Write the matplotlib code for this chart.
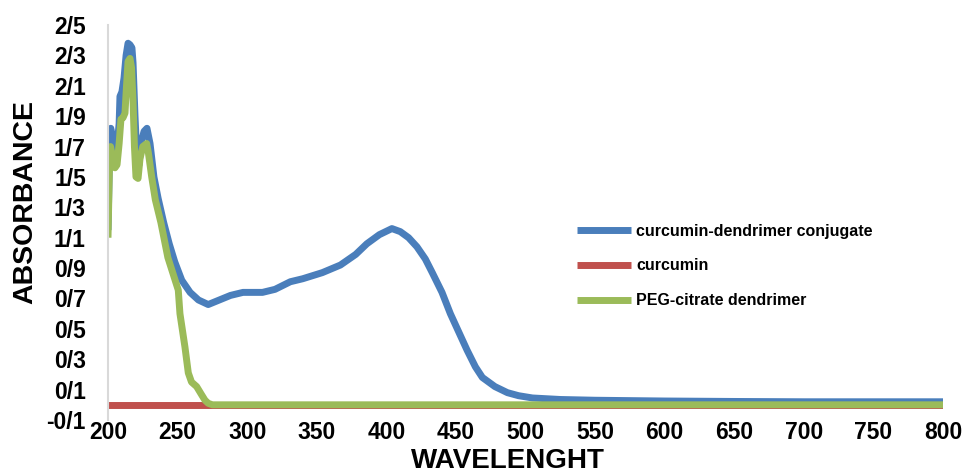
import numpy as np
import matplotlib
matplotlib.use('Agg')
import matplotlib.pyplot as plt
from matplotlib.ticker import FixedLocator, FixedFormatter

plt.rcParams['font.family'] = ['Liberation Sans', 'DejaVu Sans']
plt.rcParams['font.weight'] = 'bold'

# curcumin-dendrimer conjugate
wl_conj = [200, 201.4, 202, 203.6, 205, 206.5, 208, 208.6, 210, 211.5, 213, 214.4, 215.8,
           217.2, 218, 219.4, 220.8, 222.3, 223.7, 225.9, 228, 230.2, 233, 236, 240, 244,
           248, 253, 259, 265, 272, 280, 288, 297, 311, 320, 331, 340, 354, 367, 378, 386,
           395, 404, 410, 416, 422, 428, 433, 440, 446, 452, 458, 464, 469, 478, 487, 495,
           505, 515, 525, 550, 600, 650, 700, 750, 800]
abs_conj = [1.15, 1.80, 1.82, 1.75, 1.69, 1.70, 1.85, 2.03, 2.06, 2.15, 2.30, 2.38, 2.37,
            2.35, 2.25, 1.90, 1.62, 1.58, 1.72, 1.80, 1.82, 1.72, 1.50, 1.36, 1.20, 1.06,
            0.94, 0.82, 0.74, 0.69, 0.66, 0.69, 0.72, 0.74, 0.74, 0.76, 0.81, 0.83, 0.87,
            0.92, 0.99, 1.06, 1.12, 1.16, 1.14, 1.10, 1.04, 0.96, 0.87, 0.74, 0.60, 0.48,
            0.36, 0.25, 0.18, 0.12, 0.08, 0.06, 0.045, 0.04, 0.035, 0.03, 0.025, 0.022,
            0.02, 0.02, 0.02]

# curcumin
wl_cur = [200, 800]
abs_cur = [0.0, 0.0]

# PEG-citrate dendrimer
wl_peg = [200, 201, 201.8, 203.6, 205, 206.5, 208, 209.3, 210.8, 212.2, 213.3, 214.4,
          215.8, 216.9, 218, 219, 220.1, 221.6, 223, 225, 227.8, 229, 231.4, 234, 238,
          243, 250.5, 251.7, 255.3, 257.7, 260, 263.7, 267, 269.7, 272, 275, 800]
abs_peg = [1.10, 1.55, 1.70, 1.62, 1.56, 1.58, 1.72, 1.88, 1.89, 1.92, 2.10, 2.26, 2.28,
           2.22, 2.00, 1.70, 1.50, 1.49, 1.62, 1.70, 1.72, 1.66, 1.50, 1.35, 1.20, 0.97,
           0.755, 0.60, 0.38, 0.21, 0.15, 0.12, 0.07, 0.03, 0.01, 0.0, 0.0]

yticks = [-0.1, 0.1, 0.3, 0.5, 0.7, 0.9, 1.1, 1.3, 1.5, 1.7, 1.9, 2.1, 2.3, 2.5]
ytick_labels = ['-0/1', '0/1', '0/3', '0/5', '0/7', '0/9', '1/1', '1/3', '1/5', '1/7',
                '1/9', '2/1', '2/3', '2/5']
xticks = list(range(200, 801, 50))

W, H = 963, 474
fig = plt.figure(figsize=(W / 100, H / 100), dpi=100)
ax = fig.add_axes([108 / W, 1 - 420 / H, (943 - 108) / W, (420 - 25) / H])

lw = 5
kw = dict(lw=lw, solid_joinstyle='round', solid_capstyle='butt')
ax.plot(wl_conj, abs_conj, color='#4A7EBB', label='curcumin-dendrimer conjugate', **kw)
ax.plot(wl_cur, abs_cur, color='#C0504D', label='curcumin', **kw)
ax.plot(wl_peg, abs_peg, color='#9BBB59', label='PEG-citrate dendrimer', **kw)

ax.set_xlim(200, 800)
ax.set_ylim(-0.1, 2.5)
ax.yaxis.set_major_locator(FixedLocator(yticks))
ax.yaxis.set_major_formatter(FixedFormatter(ytick_labels))
ax.set_xticks(xticks)
ax.tick_params(axis='y', length=0, pad=16, labelsize=16.5)
ax.tick_params(axis='x', length=0, pad=1, labelsize=16.5)

for s in ['top', 'right', 'bottom']:
    ax.spines[s].set_visible(False)
ax.spines['left'].set_color('#D9D9D9')
ax.spines['left'].set_linewidth(1.5)

fig.text(25 / W, 1 - 202 / H, 'ABSORBANCE', rotation=90, ha='center', va='center',
         fontsize=20.5, fontweight='bold')
fig.text(508 / W, 1 - 461 / H, 'WAVELENGHT', ha='center', va='center',
         fontsize=20, fontweight='bold')

ax.legend(loc='center left', bbox_to_anchor=(577 / W, 1 - 266 / H),
          bbox_transform=fig.transFigure, frameon=False, fontsize=11.5,
          handlelength=3.4, handletextpad=0.3, labelspacing=1.25,
          borderpad=0, borderaxespad=0)

fig.savefig('out.png', dpi=100)
